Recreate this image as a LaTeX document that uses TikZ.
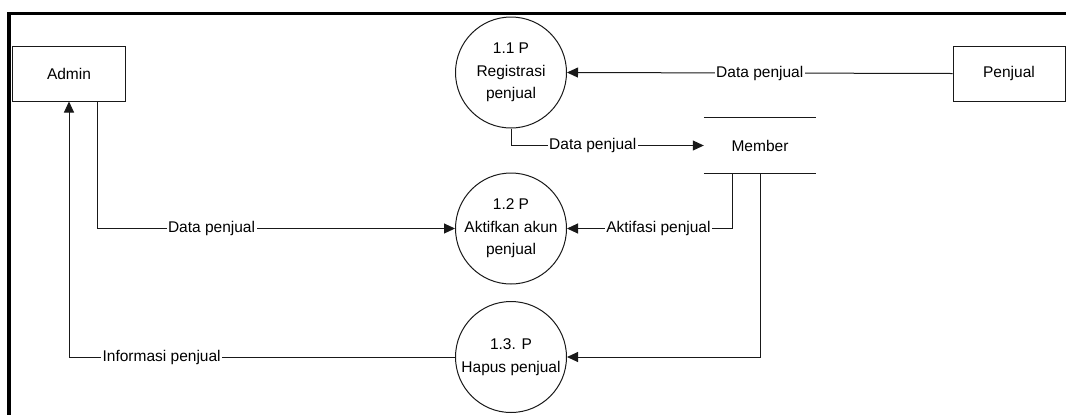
\documentclass[tikz,border=0pt]{standalone}
\usepackage{fontspec}
\setmainfont{Liberation Sans}
\usetikzlibrary{arrows.meta}
\begin{document}
\begin{tikzpicture}[x=1bp,y=-1bp,
  every node/.style={font=\fontsize{15.5bp}{22.5bp}\selectfont},
  ext/.style={draw=black!90,line width=1bp,minimum width=112bp,minimum height=55bp,inner sep=0pt},
  proc/.style={draw=black!90,line width=1bp,circle,minimum size=111bp,inner sep=0pt,align=center},
  store/.style={minimum width=112bp,minimum height=55bp,inner sep=0pt},
  flow/.style={draw=black!90,line width=1bp,-{Triangle[length=11bp,width=10bp]}},
  plain/.style={draw=black!90,line width=1bp},
  lbl/.style={fill=white,inner xsep=1.5bp,inner ysep=1bp}]
\useasboundingbox (0,0) rectangle (1066,414);
% outer frame
\draw[line width=3.5bp] (9,420) -- (9,13.5) -- (1070,13.5);
% nodes
\node[ext] (admin) at (69,73.5) {Admin};
\node[ext] (penjual) at (1009,73.5) {Penjual};
\node[proc] (p11) at (511,72.5) {1.1 P\\Registrasi\\penjual};
\node[proc] (p12) at (511,228.5) {1.2 P\\Aktifkan akun\\penjual};
\node[proc] (p13) at (511,357) {1.3. P\\Hapus penjual};
\node[store] (member) at (760,145.5) {Member};
\draw[plain] (member.north west) -- (member.north east);
\draw[plain] (member.south west) -- (member.south east);
% flows
\draw[flow] (penjual.west) -- node[lbl,midway] {Data penjual} (p11.east);
\draw[flow] (p11.south) |- node[lbl,pos=0.712] {Data penjual} (member.west);
\draw[flow] ([xshift=28bp]admin.south) |- node[lbl,pos=0.66] {Data penjual} (p12.west);
\draw[flow] ([xshift=-28bp]member.south) |- node[lbl,pos=0.723] {Aktifasi penjual} (p12.east);
\draw[flow] (member.south) |- (p13.east);
\draw[flow] (p13.west) -| node[lbl,pos=0.38] {Informasi penjual} (admin.south);
\end{tikzpicture}
\end{document}
